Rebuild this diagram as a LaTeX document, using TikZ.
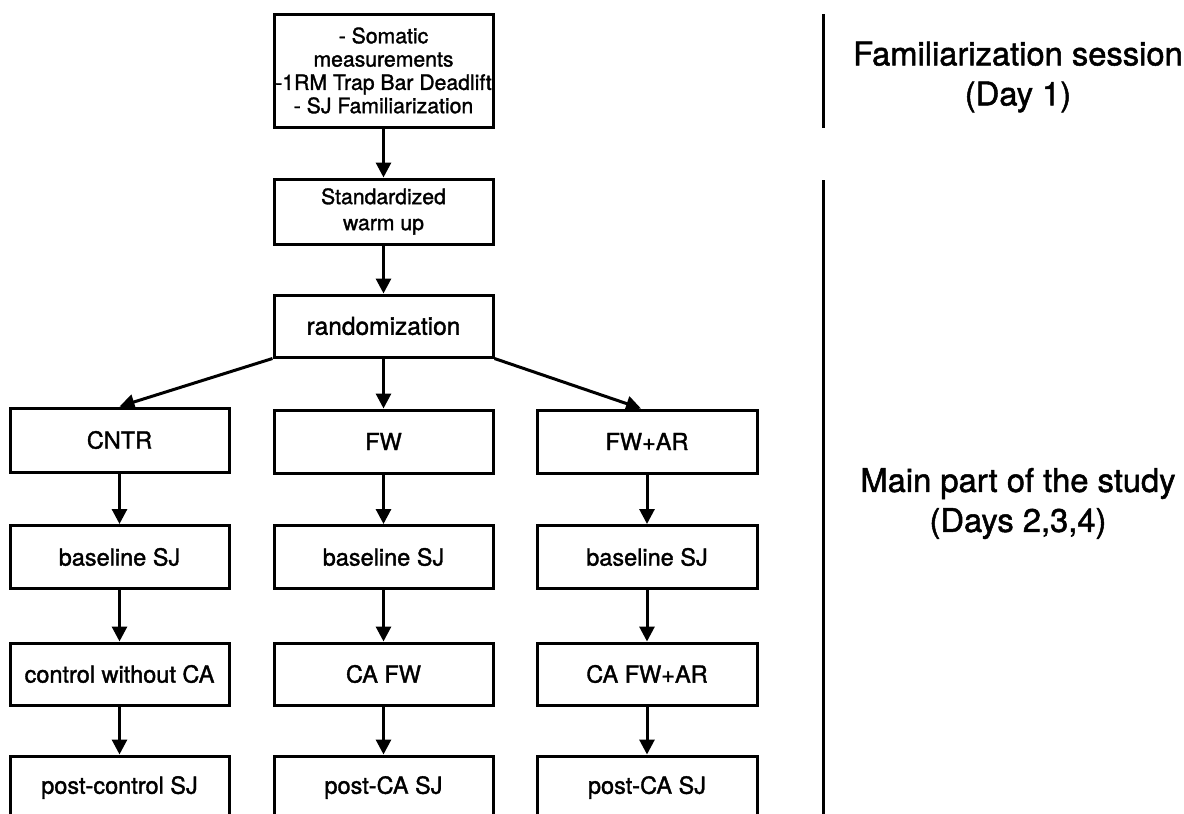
\documentclass[tikz,border=0pt]{standalone}
\usepackage{fontspec}
\setmainfont{TeX Gyre Heros}[FakeBold=1.5]
\usetikzlibrary{arrows.meta}
\begin{document}
\begin{tikzpicture}[x=1pt,y=-1pt,
  box/.style={draw,line width=3pt,minimum width=219pt,inner sep=0pt,align=center,font=\fontsize{23.5}{27}\selectfont},
  arr/.style={line width=3pt,-{Triangle[width=15pt,length=15pt]}},
  divider/.style={line width=3pt},
  sidelabel/.style={align=center,font=\fontsize{32.7}{40}\selectfont}]
\useasboundingbox (0,0) rectangle (1184,814);
\clip (0,0) rectangle (1184,814);
% top part
\node[box,minimum height=113pt,font=\fontsize{21.2}{23.3}\selectfont] (fam) at (383.5,70.5) {- Somatic\\measurements\\-1RM Trap Bar Deadlift\\- SJ Familiarization};
\node[box,minimum height=65pt,font=\fontsize{21.2}{26}\selectfont] (warm) at (383.5,211.5) {Standardized\\warm up};
\node[box,minimum height=62pt,font=\fontsize{24.5}{28}\selectfont] (rand) at (383.5,326) {randomization};
% groups
\node[box,minimum height=64pt] (cntr) at (119.5,440) {CNTR};
\node[box,minimum height=63pt] (fw) at (383.5,441.5) {FW};
\node[box,minimum height=63pt,minimum width=220pt] (fwar) at (647,441.5) {FW+AR};
% baseline
\node[box,minimum height=63pt] (base1) at (119.5,557) {baseline SJ};
\node[box,minimum height=63pt] (base2) at (383.5,557) {baseline SJ};
\node[box,minimum height=63pt,minimum width=220pt] (base3) at (647,557) {baseline SJ};
% CA
\node[box,minimum height=62pt] (ca1) at (119.5,674) {control without CA};
\node[box,minimum height=62pt] (ca2) at (383.5,674) {CA FW};
\node[box,minimum height=62pt,minimum width=220pt] (ca3) at (647,674) {CA FW+AR};
% post
\node[box,minimum height=63pt] (post1) at (119.5,787.5) {post-control SJ};
\node[box,minimum height=63pt] (post2) at (383.5,787.5) {post-CA SJ};
\node[box,minimum height=63pt,minimum width=220pt] (post3) at (647,787.5) {post-CA SJ};
% arrows
\draw[arr] (fam.south) -- (warm.north);
\draw[arr] (warm.south) -- (rand.north);
\draw[arr] (rand.south west) -- (cntr.north);
\draw[arr] (rand.south) -- (fw.north);
\draw[arr] (rand.south east) -- ([xshift=-6pt]fwar.north);
\draw[arr] (cntr.south) -- (base1.north);
\draw[arr] (fw.south) -- (base2.north);
\draw[arr] (fwar.south) -- (base3.north);
\draw[arr] (base1.south) -- (ca1.north);
\draw[arr] (base2.south) -- (ca2.north);
\draw[arr] (base3.south) -- (ca3.north);
\draw[arr] (ca1.south) -- (post1.north);
\draw[arr] (ca2.south) -- (post2.north);
\draw[arr] (ca3.south) -- (post3.north);
% dividers and labels
\draw[divider] (823,14) -- (823,128);
\draw[divider] (823,180) -- (823,830);
\node[sidelabel] (famlabel) at (1018,77) {Familiarization session\\(Day 1)};
\node[sidelabel] (mainlabel) at (1018,503.5) {Main part of the study\\(Days 2,3,4)};
\end{tikzpicture}
\end{document}
